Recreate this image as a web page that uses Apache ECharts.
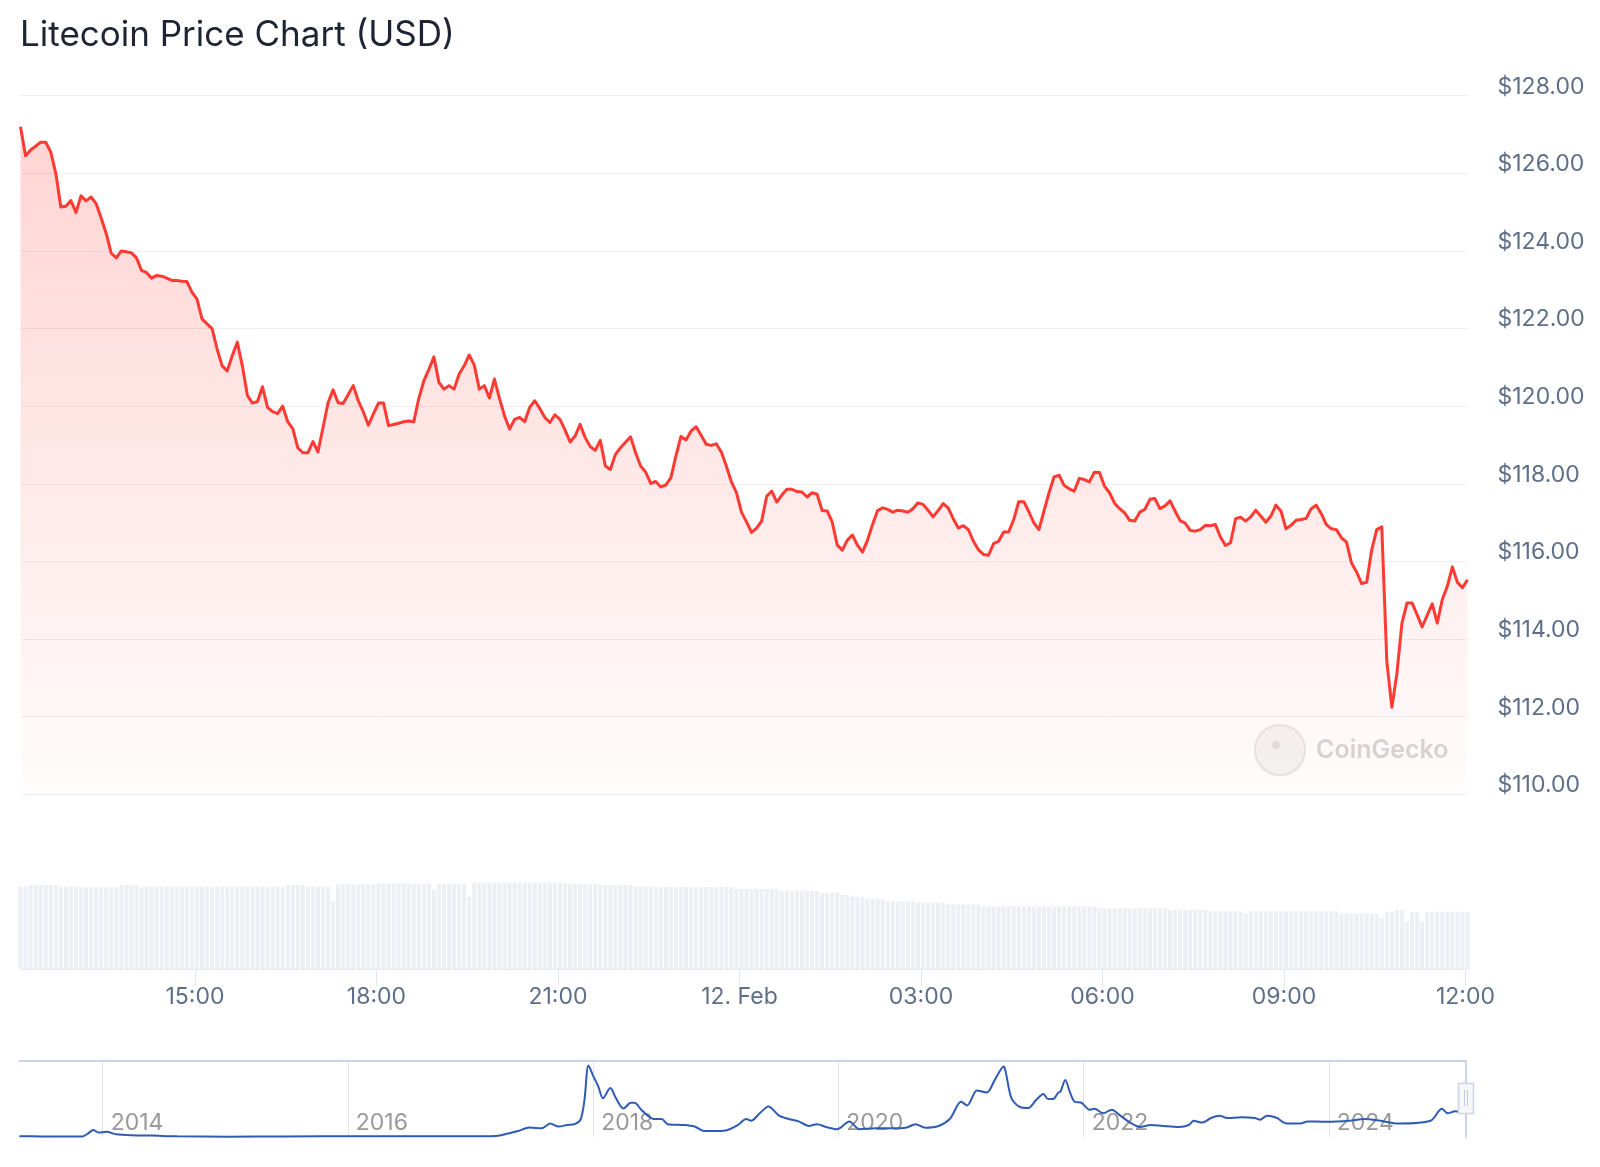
<!DOCTYPE html>
<html>
<head>
<meta charset="utf-8">
<script src="https://cdn.jsdelivr.net/npm/echarts@6/dist/echarts.min.js"></script>
<style>
html,body{margin:0;padding:0;background:#ffffff;}
#chart{width:1600px;height:1167px;}
</style>
</head>
<body>
<div id="chart"></div>
<script>
// ---------- DATA ----------
const chartTitle = 'Litecoin Price Chart (USD)';
const startTime = Date.UTC(2025, 1, 11, 12, 7);   // first 5-minute sample (UTC)
const stepMs = 5 * 60 * 1000;

// Price (USD), 5-minute samples, 11 Feb 12:07 -> 12 Feb 12:02
const prices = [
127.2,126.45,126.6,126.7,126.8,126.8,126.55,126.0,125.13,125.15,
125.3,124.99,125.42,125.29,125.39,125.22,124.85,124.45,123.94,123.82,
124.0,123.98,123.95,123.82,123.5,123.44,123.3,123.37,123.35,123.3,
123.24,123.24,123.22,123.21,122.94,122.76,122.25,122.12,122.0,121.47,
121.04,120.91,121.3,121.65,121.04,120.28,120.08,120.12,120.5,119.97,
119.86,119.81,120.0,119.6,119.42,118.93,118.8,118.8,119.09,118.82,
119.45,120.09,120.42,120.09,120.07,120.3,120.53,120.14,119.85,119.51,
119.8,120.08,120.08,119.5,119.53,119.56,119.6,119.62,119.6,120.2,
120.65,120.95,121.27,120.61,120.44,120.53,120.44,120.83,121.04,121.32,
121.06,120.44,120.53,120.21,120.7,120.2,119.75,119.41,119.66,119.71,
119.6,119.97,120.14,119.94,119.71,119.58,119.78,119.66,119.39,119.08,
119.23,119.53,119.19,118.96,118.86,119.12,118.46,118.37,118.76,118.93,
119.07,119.21,118.8,118.46,118.3,118.01,118.06,117.92,117.97,118.16,
118.72,119.22,119.13,119.36,119.47,119.25,119.02,118.99,119.03,118.82,
118.46,118.05,117.77,117.27,117.02,116.75,116.86,117.04,117.68,117.81,
117.53,117.71,117.86,117.86,117.8,117.79,117.66,117.77,117.73,117.31,
117.3,117.01,116.42,116.29,116.55,116.68,116.42,116.24,116.55,116.95,
117.31,117.38,117.34,117.27,117.32,117.3,117.27,117.36,117.51,117.47,
117.32,117.15,117.31,117.49,117.38,117.1,116.86,116.92,116.82,116.52,
116.3,116.18,116.16,116.46,116.52,116.76,116.76,117.08,117.54,117.54,
117.28,116.99,116.82,117.3,117.77,118.18,118.22,117.96,117.87,117.81,
118.14,118.11,118.05,118.3,118.29,117.94,117.77,117.5,117.36,117.25,
117.06,117.04,117.27,117.34,117.6,117.62,117.36,117.43,117.56,117.3,
117.05,116.99,116.8,116.78,116.82,116.93,116.92,116.95,116.63,116.41,
116.48,117.1,117.14,117.04,117.15,117.32,117.17,117.01,117.17,117.45,
117.3,116.84,116.93,117.06,117.08,117.11,117.36,117.45,117.23,116.95,
116.84,116.82,116.61,116.5,115.96,115.73,115.43,115.46,116.3,116.82,
116.89,113.42,112.24,113.12,114.41,114.93,114.93,114.63,114.31,114.61,
114.91,114.41,115.02,115.36,115.86,115.46,115.32,115.53
];

// 24h volume (million USD), one bar per sample
const volumes = [
826,826,843,843,843,843,843,843,826,826,
826,826,820,820,820,820,820,820,820,820,
843,843,843,843,826,826,826,826,826,826,
826,826,826,826,826,826,826,826,826,826,
826,826,826,826,826,826,826,826,826,826,
826,826,826,843,843,843,843,826,826,826,
826,826,680,850,850,850,850,850,850,850,
850,860,860,860,860,860,860,860,855,855,
855,855,800,855,855,855,855,855,855,730,
866,866,866,866,866,866,866,866,866,866,
866,866,866,866,866,866,866,866,855,855,
855,855,855,855,855,843,843,843,843,843,
843,843,826,826,826,822,822,822,822,822,
822,822,822,822,822,822,822,822,822,822,
822,822,803,803,803,803,803,803,803,803,
803,786,786,786,786,786,783,783,783,766,
766,766,766,743,743,726,726,726,706,706,
706,706,680,680,680,680,680,680,666,666,
666,666,666,666,650,650,650,650,650,650,
650,630,630,630,630,630,630,630,630,630,
630,630,630,630,630,630,630,630,630,630,
630,630,630,630,610,610,610,610,610,610,
610,610,610,610,610,610,610,610,595,595,
595,595,595,595,595,595,580,580,580,580,
580,580,580,560,580,580,580,580,580,580,
580,580,580,580,580,580,580,580,580,580,
580,580,560,560,560,560,560,560,560,560,
516,575,575,592,592,476,575,575,476,575,
575,575,575,575,575,575,575,575
];

// Time-axis tick labels
const xTickTimes = ['2025-02-11T15:00:00Z','2025-02-11T18:00:00Z','2025-02-11T21:00:00Z','2025-02-12T00:00:00Z',
                    '2025-02-12T03:00:00Z','2025-02-12T06:00:00Z','2025-02-12T09:00:00Z','2025-02-12T12:00:00Z'];
const xTickLabels = ['15:00','18:00','21:00','12. Feb','03:00','06:00','09:00','12:00'];

// Price-axis ticks
const yMin = 110, yMax = 128, yStep = 2;

// Navigator: full price history (USD)
const navDates = [
'2013-04-28','2013-07-01','2013-10-01','2013-11-02','2013-11-18','2013-12-04','2013-12-20','2014-01-12','2014-02-10','2014-03-29',
'2014-05-27','2014-08-11','2015-01-12','2015-06-25','2016-01-27','2016-06-25','2017-02-06','2017-03-18','2017-04-23','2017-05-22',
'2017-06-25','2017-07-31','2017-08-26','2017-09-20','2017-10-16','2017-11-07','2017-11-25','2017-12-06','2017-12-18','2018-01-01',
'2018-01-16','2018-01-30','2018-02-21','2018-03-10','2018-04-01','2018-04-23','2018-05-04','2018-05-26','2018-07-02','2018-07-24',
'2018-08-11','2018-09-24','2018-10-30','2018-11-28','2018-12-24','2019-01-30','2019-03-07','2019-04-02','2019-04-16','2019-05-12',
'2019-06-07','2019-07-09','2019-08-07','2019-09-05','2019-10-05','2019-10-30','2019-11-25','2019-12-28','2020-02-03','2020-03-04',
'2020-04-20','2020-06-10','2020-07-20','2020-08-18','2020-09-16','2020-10-26','2020-11-28','2021-01-01','2021-01-19','2021-02-17',
'2021-03-18','2021-04-12','2021-05-08','2021-05-14','2021-05-31','2021-06-25','2021-07-20','2021-08-12','2021-09-03','2021-09-17',
'2021-10-02','2021-10-16','2021-10-24','2021-11-07','2021-11-22','2021-12-06','2021-12-24','2022-01-19','2022-02-02','2022-02-28',
'2022-03-25','2022-04-20','2022-05-19','2022-06-17','2022-07-20','2022-08-25','2022-10-12','2022-11-10','2022-11-25','2022-12-20',
'2023-01-15','2023-02-10','2023-03-04','2023-04-16','2023-05-26','2023-06-10','2023-07-01','2023-07-31','2023-08-25','2023-10-08',
'2023-10-30','2023-12-24','2024-03-03','2024-04-16','2024-06-02','2024-07-02','2024-07-31','2024-10-30','2024-12-03','2024-12-20',
'2025-01-11','2025-02-12'
];
const navPrices = [
4.3,3.0,2.5,3.0,17.5,35,22.8,26,14,8.8,
7,3.5,1.5,3,3.5,4,4,5,18,30,
48,44,68,53,61,65,91,187,362,310,
257,196,248,196,144,173,173,135,91,91,
65,61,53,30,30,33,60,91,82,120,
155,108,91,79,56,65,51,39,79,39,
44,44,47,65,47,56,91,178,160,236,
225,292,357,327,196,152,147,187,218,192,
192,222,231,289,222,178,175,138,143,120,
138,108,73,51,61,56,51,61,82,73,
96,108,96,100,96,87,108,96,70,68,
79,77,82,91,82,73,68,82,143,120,
130,120
];
const navYearTicks = ['2014-01-01','2016-01-01','2018-01-01','2020-01-01','2022-01-01','2024-01-01'];

// ---------- CHART ----------
const FONT = 'Inter, "Noto Sans", sans-serif';
const toMs = s => Date.parse(s + 'T00:00:00Z');
const times = prices.map((_, i) => startTime + i * stepMs);
const xTickMs = xTickTimes.map(s => Date.parse(s));
const navYearMs = navYearTicks.map(toMs);
const navMs = navDates.map(toMs);
const navStart = navMs[0];
const navEnd = navMs[navMs.length - 1];

const chart = echarts.init(document.getElementById('chart'), null, {renderer: 'canvas'});
const option = {
  animation: false,
  backgroundColor: '#ffffff',
  title: {
    text: chartTitle, left: 20, top: 15, padding: 0,
    textStyle: {fontFamily: FONT, fontSize: 35, fontWeight: 400, color: '#1e2433', lineHeight: 40}
  },
  grid: [
    {left: 20.5, right: 132.5, top: 95.7, height: 698.6},
    {left: 20.5, right: 132.5, top: 849.3, height: 120},
    {left: 19.4, right: 134.2, top: 1061, height: 76}
  ],
  xAxis: [
    {gridIndex: 0, type: 'value', min: times[0], max: times[times.length - 1], show: false, splitLine: {show: false}},
    {gridIndex: 1, type: 'value', min: times[0], max: times[times.length - 1],
     axisLine: {show: true, lineStyle: {color: '#e3e7ed', width: 1}},
     axisTick: {show: true, customValues: xTickMs, length: 17, lineStyle: {color: '#e3e7ed'}},
     splitLine: {show: false},
     axisLabel: {customValues: xTickMs, margin: 15, fontFamily: FONT, fontSize: 23, color: '#5f6e88', lineHeight: 26,
       formatter: function (v) {
         for (let k = 0; k < xTickMs.length; k++) if (Math.abs(xTickMs[k] - v) < 60000) return xTickLabels[k];
         return '';
       }}},
    {gridIndex: 2, type: 'value', min: navStart, max: navEnd,
     axisLine: {show: false},
     axisTick: {show: false, customValues: navYearMs},
     splitLine: {show: true, lineStyle: {color: '#e3e3e3', width: 1}},
     axisLabel: {customValues: navYearMs, inside: true, margin: 2, align: 'left', padding: [0, 0, 0, 8],
       fontFamily: FONT, fontSize: 23, color: '#999999',
       formatter: v => String(new Date(v).getUTCFullYear())}},
    {gridIndex: 2, type: 'value', position: 'top', min: navStart, max: navEnd,
     axisLine: {show: true, lineStyle: {color: '#cbd4e4', width: 2}},
     axisTick: {show: false}, axisLabel: {show: false}, splitLine: {show: false}}
  ],
  yAxis: [
    {gridIndex: 0, type: 'value', position: 'right', min: yMin, max: yMax, interval: yStep,
     axisLine: {show: false}, axisTick: {show: false},
     splitLine: {show: true, lineStyle: {color: '#edf0f4', width: 1}},
     axisLabel: {margin: 30, fontFamily: FONT, fontSize: 23, color: '#5f6e88', verticalAlign: 'bottom', lineHeight: 18,
       formatter: v => '$' + v.toFixed(2)}},
    {gridIndex: 1, type: 'value', min: 0, max: 1200, show: false, splitLine: {show: false}},
    {gridIndex: 2, type: 'value', position: 'right', min: 0, max: 385,
     axisLine: {show: true, lineStyle: {color: '#cbd4e4', width: 2}},
     axisTick: {show: false}, axisLabel: {show: false}, splitLine: {show: false}}
  ],
  series: [
    {
      type: 'bar', xAxisIndex: 1, yAxisIndex: 1, barWidth: 4,
      itemStyle: {color: '#eceff3'}, silent: true,
      data: times.map((t, i) => [t, volumes[i]])
    },
    {
      type: 'line', xAxisIndex: 0, yAxisIndex: 0, showSymbol: false, symbol: 'none',
      lineStyle: {color: '#ff3a33', width: 3, join: 'round'},
      areaStyle: {color: new echarts.graphic.LinearGradient(0, 0, 0, 1, [
        {offset: 0, color: 'rgba(255,58,51,0.31)'},
        {offset: 1, color: 'rgba(255,58,51,0.02)'}
      ])},
      z: 3,
      data: times.map((t, i) => [t, prices[i]])
    },
    {
      type: 'line', xAxisIndex: 2, yAxisIndex: 2, showSymbol: false, symbol: 'none', smooth: 0.3,
      lineStyle: {color: '#2f5bb4', width: 2},
      data: navMs.map((t, i) => [t, navPrices[i]])
    }
  ],
  graphic: [
    {type: 'circle', shape: {cx: 1280, cy: 750, r: 25}, style: {fill: '#f4f4f4', stroke: '#e6e6e6', lineWidth: 2}, z: 1, silent: true},
    {type: 'circle', shape: {cx: 1276, cy: 745, r: 4}, style: {fill: '#dedede'}, z: 1, silent: true},
    {type: 'text', x: 1316, y: 750, z: 1, silent: true,
     style: {text: 'CoinGecko', fontFamily: FONT, fontSize: 25, fontWeight: 600, fill: '#d6d6d6', verticalAlign: 'middle'}},
    {type: 'rect', shape: {x: 1458.5, y: 1083.5, width: 15, height: 30}, style: {fill: '#f7f7f7', stroke: '#cbd4e4', lineWidth: 1.5}, z: 10},
    {type: 'line', shape: {x1: 1464.5, y1: 1090, x2: 1464.5, y2: 1106}, style: {stroke: '#c3cce0', lineWidth: 1}, z: 11},
    {type: 'line', shape: {x1: 1467.5, y1: 1090, x2: 1467.5, y2: 1106}, style: {stroke: '#c3cce0', lineWidth: 1}, z: 11}
  ]
};
chart.setOption(option);
</script>
</body>
</html>
